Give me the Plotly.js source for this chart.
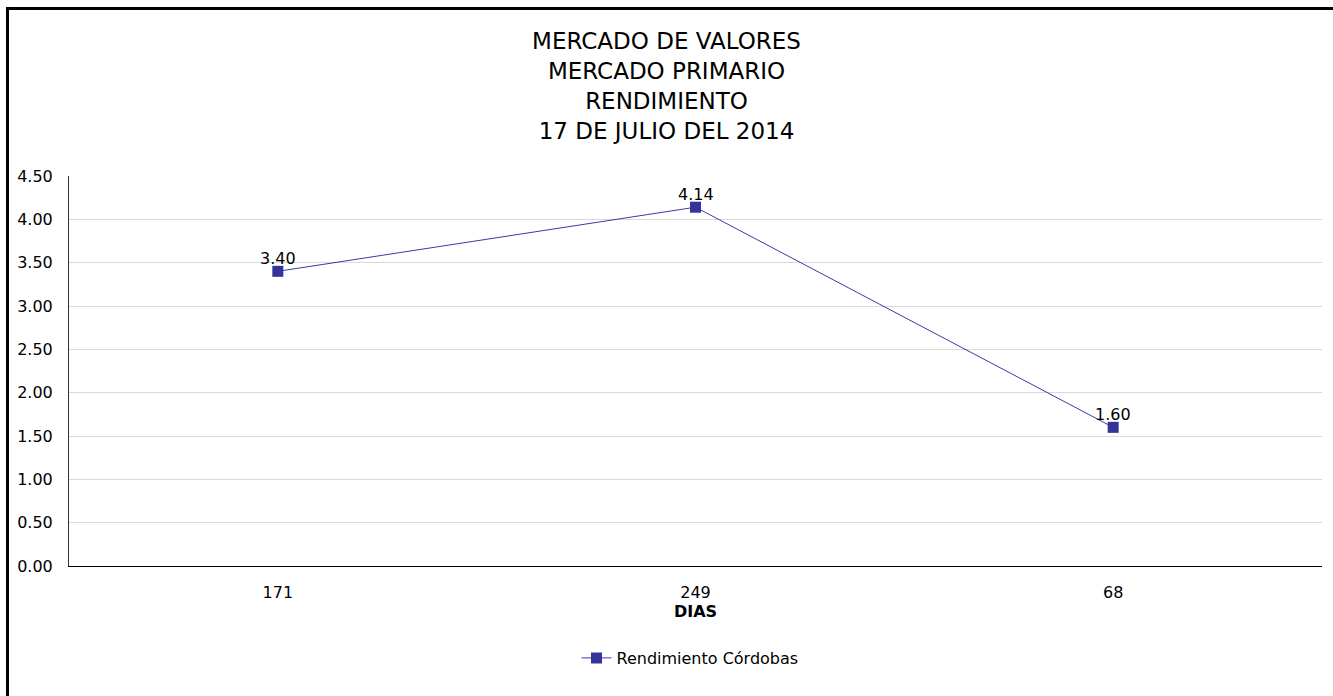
<!DOCTYPE html>
<html>
<head>
<meta charset="utf-8">
<script src="https://cdn.plot.ly/plotly-3.0.1.min.js"></script>
<style>
html,body{margin:0;padding:0;background:#fff;}
#frame{position:absolute;left:6px;top:7px;width:1400px;height:800px;border-left:3px solid #000;border-top:3px solid #000;}
#chart{position:absolute;left:0;top:0;width:1333px;height:696px;}
</style>
</head>
<body>
<div id="frame"></div>
<div id="chart"></div>
<script>
const categories = ["171", "249", "68"];
const rendimiento = [3.40, 4.14, 1.60];
const seriesName = "Rendimiento Córdobas";
const titleLines = ["MERCADO DE VALORES", "MERCADO PRIMARIO", "RENDIMIENTO", "17 DE JULIO DEL 2014"];
const yTickVals = [0, 0.5, 1, 1.5, 2, 2.5, 3, 3.5, 4, 4.5];

const font = "DejaVu Sans, Verdana, sans-serif";

const trace = {
  type: "scatter",
  mode: "lines+markers",
  x: categories,
  y: rendimiento,
  name: seriesName,
  line: {color: "#3a3aa8", width: 1},
  marker: {symbol: "square", size: 11, color: "#333399"},
  hoverinfo: "x+y",
  cliponaxis: false
};

// category axis: annotation x is the category index
const labels = categories.map((c, i) => ({
  x: i, y: rendimiento[i], xref: "x", yref: "y",
  text: rendimiento[i].toFixed(2),
  showarrow: false, xanchor: "center", yanchor: "middle", yshift: 13,
  font: {family: font, size: 16, color: "#000"}
}));

const layout = {
  width: 1333,
  height: 696,
  paper_bgcolor: "rgba(0,0,0,0)",
  plot_bgcolor: "rgba(0,0,0,0)",
  margin: {l: 69, r: 11, t: 176, b: 130},
  font: {family: font, size: 16, color: "#000"},
  title: {
    text: titleLines.join("<br>"),
    font: {family: font, size: 23, color: "#000"},
    x: 0.5, xanchor: "center",
    yref: "container", y: 1 - 49/696, yanchor: "top"
  },
  xaxis: {
    type: "category",
    range: [-0.5, 2.5],
    showgrid: false,
    zeroline: false,
    showline: true,
    linecolor: "#000",
    linewidth: 1,
    ticks: "",
    ticklabelstandoff: 12,
    tickfont: {family: font, size: 16, color: "#000"},
    title: {text: "<b>DIAS</b>", font: {family: font, size: 16, color: "#000"}, standoff: 1}
  },
  yaxis: {
    range: [0, 4.5],
    tickvals: yTickVals,
    tickformat: ".2f",
    showgrid: true,
    gridcolor: "#d9d9d9",
    gridwidth: 1,
    zeroline: false,
    showline: true,
    linecolor: "#333",
    linewidth: 1,
    ticks: "",
    ticklabelstandoff: 12,
    tickfont: {family: font, size: 16, color: "#000"}
  },
  annotations: labels,
  showlegend: true,
  legend: {
    orientation: "h",
    x: (690 - 69) / 1253, xanchor: "center",
    y: -(658 - 566) / 390, yanchor: "middle",
    font: {family: font, size: 16, color: "#000"},
    bgcolor: "rgba(0,0,0,0)"
  }
};

Plotly.newPlot("chart", [trace], layout, {displayModeBar: false, staticPlot: true});
</script>
</body>
</html>
